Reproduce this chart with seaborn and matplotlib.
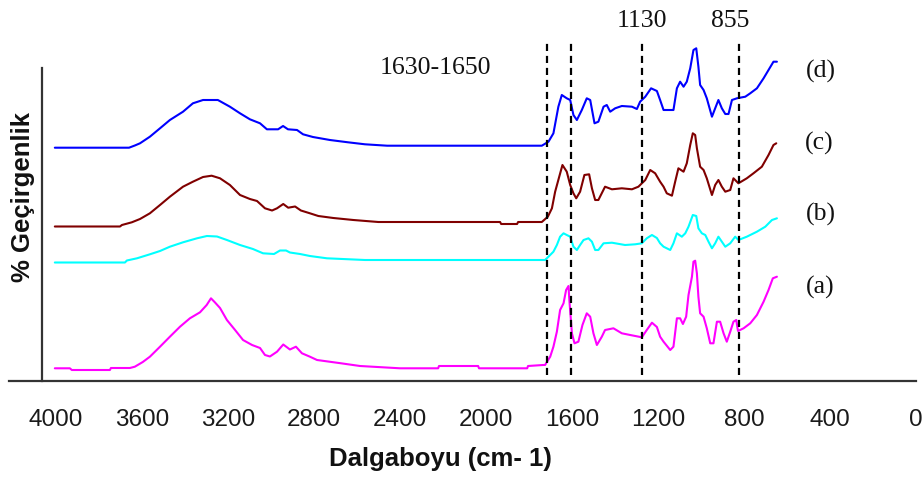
import matplotlib
matplotlib.use("Agg")
import matplotlib.pyplot as plt
import seaborn as sns
import pandas as pd

# FTIR spectra (wavenumber, cm-1) and relative transmittance (arbitrary units)
wn_d = [4005, 3660, 3633, 3609, 3563, 3516, 3470, 3409, 3363, 3316, 3247, 3191, 3144, 3098,
        3051, 3019, 2967, 2944, 2921, 2879, 2851, 2805, 2726, 2642, 2563, 2460, 1741, 1710,
        1687, 1664, 1648, 1625, 1609, 1594, 1578, 1555, 1532, 1516, 1496, 1478, 1454, 1439,
        1423, 1400, 1369, 1322, 1299, 1284, 1260, 1233, 1206, 1191, 1175, 1129, 1113, 1098,
        1082, 1067, 1051, 1036, 1023, 1013, 1005, 989, 974, 950, 935, 920, 904, 888, 873,
        857, 834, 795, 772, 741, 710, 687, 664, 648]
t_d = [233.0, 233.0, 235.2, 237.4, 244.0, 252.4, 260.7, 269.0, 277.4, 280.7, 280.7, 274.0,
       267.4, 261.4, 257.4, 251.4, 251.4, 254.7, 251.4, 250.7, 246.4, 243.7, 240.7, 238.4,
       236.4, 235.0, 235.0, 239.0, 247.4, 274.0, 285.7, 282.4, 280.7, 265.7, 260.7, 270.7,
       282.4, 280.7, 257.4, 259.0, 274.0, 275.7, 269.0, 272.4, 274.7, 274.0, 271.7, 279.0,
       284.0, 292.4, 289.7, 280.7, 270.7, 270.7, 292.4, 299.0, 294.0, 299.0, 312.4, 330.7,
       332.4, 314.0, 295.7, 290.7, 282.4, 264.0, 272.4, 280.7, 272.4, 266.7, 266.7, 280.7,
       282.4, 284.0, 287.4, 292.4, 302.4, 310.7, 319.0, 319.0]

wn_c = [4005, 3702, 3693, 3647, 3609, 3563, 3516, 3470, 3409, 3363, 3316, 3276, 3237, 3191,
        3144, 3098, 3065, 3028, 2995, 2972, 2943, 2920, 2888, 2861, 2819, 2780, 2710, 2617,
        2501, 1935, 1930, 1856, 1851, 1741, 1713, 1694, 1679, 1660, 1645, 1625, 1609, 1594,
        1581, 1563, 1543, 1521, 1508, 1493, 1478, 1447, 1415, 1369, 1322, 1292, 1260, 1237,
        1214, 1191, 1175, 1160, 1136, 1121, 1106, 1082, 1067, 1051, 1039, 1028, 1020, 1005,
        989, 974, 950, 935, 920, 904, 888, 865, 850, 827, 788, 757, 718, 687, 664, 651]
t_c = [154.2, 154.2, 155.7, 158.4, 161.7, 167.4, 175.7, 184.0, 194.0, 199.0, 203.7, 205.0,
       202.4, 195.7, 185.7, 181.7, 179.7, 172.4, 170.2, 172.4, 176.7, 173.0, 174.2, 170.2,
       167.4, 164.7, 162.7, 160.7, 158.7, 158.7, 156.7, 156.7, 158.7, 158.7, 164.0, 172.4,
       189.0, 204.0, 215.7, 209.0, 195.7, 187.4, 182.4, 189.0, 205.7, 206.4, 192.4, 180.7,
       180.7, 194.0, 191.4, 192.4, 191.4, 194.0, 200.7, 210.7, 207.4, 199.0, 194.0, 187.4,
       185.0, 199.0, 212.4, 209.0, 217.4, 235.7, 247.4, 245.7, 232.4, 214.0, 210.7, 202.4,
       185.7, 195.7, 200.7, 194.0, 189.0, 190.7, 202.4, 197.4, 202.4, 207.4, 214.0, 225.7,
       235.7, 237.4]

wn_b = [4005, 3679, 3670, 3623, 3563, 3516, 3470, 3409, 3344, 3298, 3251, 3205, 3144, 3084,
        3037, 2986, 2958, 2930, 2912, 2865, 2819, 2740, 2563, 1726, 1710, 1687, 1671, 1656,
        1640, 1625, 1609, 1594, 1578, 1563, 1547, 1524, 1508, 1493, 1478, 1454, 1415, 1354,
        1307, 1276, 1253, 1229, 1206, 1191, 1175, 1144, 1129, 1113, 1090, 1074, 1059, 1039,
        1023, 1013, 997, 981, 966, 950, 935, 920, 904, 888, 865, 842, 827, 788, 741, 702,
        671, 648]
t_b = [118.2, 118.2, 120.2, 122.4, 126.4, 129.7, 134.0, 138.4, 142.4, 144.7, 144.2, 140.7,
       135.7, 131.7, 127.4, 126.7, 130.2, 130.2, 128.2, 126.7, 124.7, 122.4, 120.7, 120.7,
       124.0, 129.0, 135.7, 144.0, 147.4, 145.7, 144.0, 134.0, 130.7, 135.7, 140.7, 142.4,
       139.0, 130.7, 130.7, 137.4, 138.0, 135.7, 136.4, 137.4, 142.4, 145.7, 142.7, 137.4,
       134.0, 130.7, 137.4, 147.4, 144.0, 147.4, 154.0, 165.7, 164.7, 152.4, 147.4, 145.7,
       139.0, 132.4, 137.4, 144.0, 139.0, 134.0, 137.4, 144.0, 140.7, 144.0, 149.0, 154.0,
       160.7, 162.4]

wn_a = [4005, 3935, 3926, 3749, 3744, 3656, 3633, 3596, 3563, 3516, 3470, 3423, 3377, 3330,
        3299, 3279, 3261, 3237, 3205, 3167, 3130, 3088, 3051, 3028, 3005, 2972, 2943, 2912,
        2884, 2856, 2819, 2786, 2674, 2586, 2400, 2223, 2219, 2037, 2033, 1809, 1805, 1735,
        1726, 1702, 1687, 1671, 1656, 1640, 1628, 1617, 1613, 1601, 1589, 1571, 1552, 1532,
        1516, 1501, 1485, 1462, 1447, 1408, 1369, 1330, 1276, 1253, 1229, 1206, 1191, 1175,
        1144, 1129, 1113, 1098, 1085, 1070, 1059, 1043, 1036, 1028, 1020, 1013, 1005, 989,
        974, 958, 943, 927, 912, 896, 881, 865, 850, 837, 829, 803, 772, 741, 710, 687,
        667, 648]
t_a = [12.4, 12.4, 10.7, 10.7, 12.7, 12.7, 14.0, 18.7, 24.0, 34.0, 44.0, 54.0, 62.4, 68.4,
       75.7, 82.4, 78.4, 72.7, 60.7, 50.7, 40.7, 35.7, 32.7, 25.7, 24.2, 29.0, 36.2, 31.2,
       34.0, 27.4, 24.0, 20.7, 17.4, 14.7, 12.4, 12.4, 14.7, 14.7, 12.4, 12.4, 14.7, 15.7,
       15.7, 24.0, 34.0, 49.0, 70.7, 77.4, 90.7, 94.7, 80.7, 47.4, 37.4, 39.0, 55.7, 67.4,
       64.0, 47.4, 35.7, 44.0, 50.7, 52.4, 47.4, 45.7, 43.4, 50.7, 58.0, 53.7, 44.0, 39.0,
       30.7, 34.0, 62.4, 62.4, 56.7, 64.0, 85.7, 104.0, 119.0, 120.0, 107.4, 84.0, 67.4, 64.0,
       52.4, 37.4, 37.4, 59.0, 59.0, 47.4, 39.0, 49.0, 59.0, 60.7, 49.7, 52.4, 57.4, 65.7,
       79.0, 90.7, 102.4, 104.0]

series_names = ["(d)", "(c)", "(b)", "(a)"]
series_colors = ["#0000FF", "#800000", "#00FFFF", "#FF00FF"]
label_pos = [(442, 309.7), (451, 237.7), (442, 166.7), (446, 93.7)]

# Marked band positions on the wavenumber axis and their labels
band_lines = [1718, 1606, 1273, 825]
band_labels = [("1630-1650", 2237, 312.7), ("1130", 1276, 359.7), ("855", 865, 359.7)]

xticks = [4000, 3600, 3200, 2800, 2400, 2000, 1600, 1200, 800, 400, 0]

sns.set_style("white")
plt.rcParams["font.family"] = ["Liberation Sans", "DejaVu Sans"]

frames = []
for name, wn, t in zip(series_names, [wn_d, wn_c, wn_b, wn_a], [t_d, t_c, t_b, t_a]):
    frames.append(pd.DataFrame({"wn": wn, "t": t, "spectrum": name}))
df = pd.concat(frames, ignore_index=True)

fig = plt.figure(figsize=(9.23, 4.84), dpi=100)
ax = fig.add_axes([9 / 923, (484 - 380.7) / 484, (916.3 - 9) / 923, 380.7 / 484])

sns.lineplot(data=df, x="wn", y="t", hue="spectrum", palette=dict(zip(series_names, series_colors)),
             estimator=None, sort=False, linewidth=1.5, legend=False, ax=ax)

for xv in band_lines:
    ax.plot([xv, xv], [5.7, 337.7], color="black", linestyle=(0, (3.2, 2.2)), linewidth=1.6)

serif = ["Liberation Serif", "DejaVu Serif"]
for text, xv, yv in band_labels:
    ax.text(xv, yv, text, ha="center", va="center", fontsize=18.5, family=serif, color="#111111")
for name, (xv, yv) in zip(series_names, label_pos):
    ax.text(xv, yv, name, ha="center", va="center", fontsize=18.5, family=serif, color="#111111")

ax.set_xlim(4218, 0)
ax.set_ylim(0, 380.7)
ax.set_xticks(xticks)
ax.set_xticklabels([str(v) for v in xticks])
ax.set_yticks([])

ax.spines["top"].set_visible(False)
ax.spines["right"].set_visible(False)
ax.spines["left"].set_position(("data", 4066))
ax.spines["left"].set_bounds(0, 312.7)
for s in ("left", "bottom"):
    ax.spines[s].set_linewidth(1.6)
    ax.spines[s].set_color("#333333")

ax.tick_params(axis="x", direction="out", length=6.5, width=1.5, color="#333333",
               labelsize=17.5, pad=14, labelcolor="#1a1a1a")

ax.set_xlabel("Dalgaboyu (cm- 1)", fontsize=18.5, fontweight="bold", color="#111111")
ax.xaxis.set_label_coords(0.475, -0.205)
ax.xaxis.label.set_va("center")
ax.set_ylabel("% Geçirgenlik", fontsize=18.5, fontweight="bold", color="#111111")
ax.yaxis.set_label_coords(0.0154, 0.4825)
ax.yaxis.label.set_va("center")

fig.savefig("out.png", dpi=100)
